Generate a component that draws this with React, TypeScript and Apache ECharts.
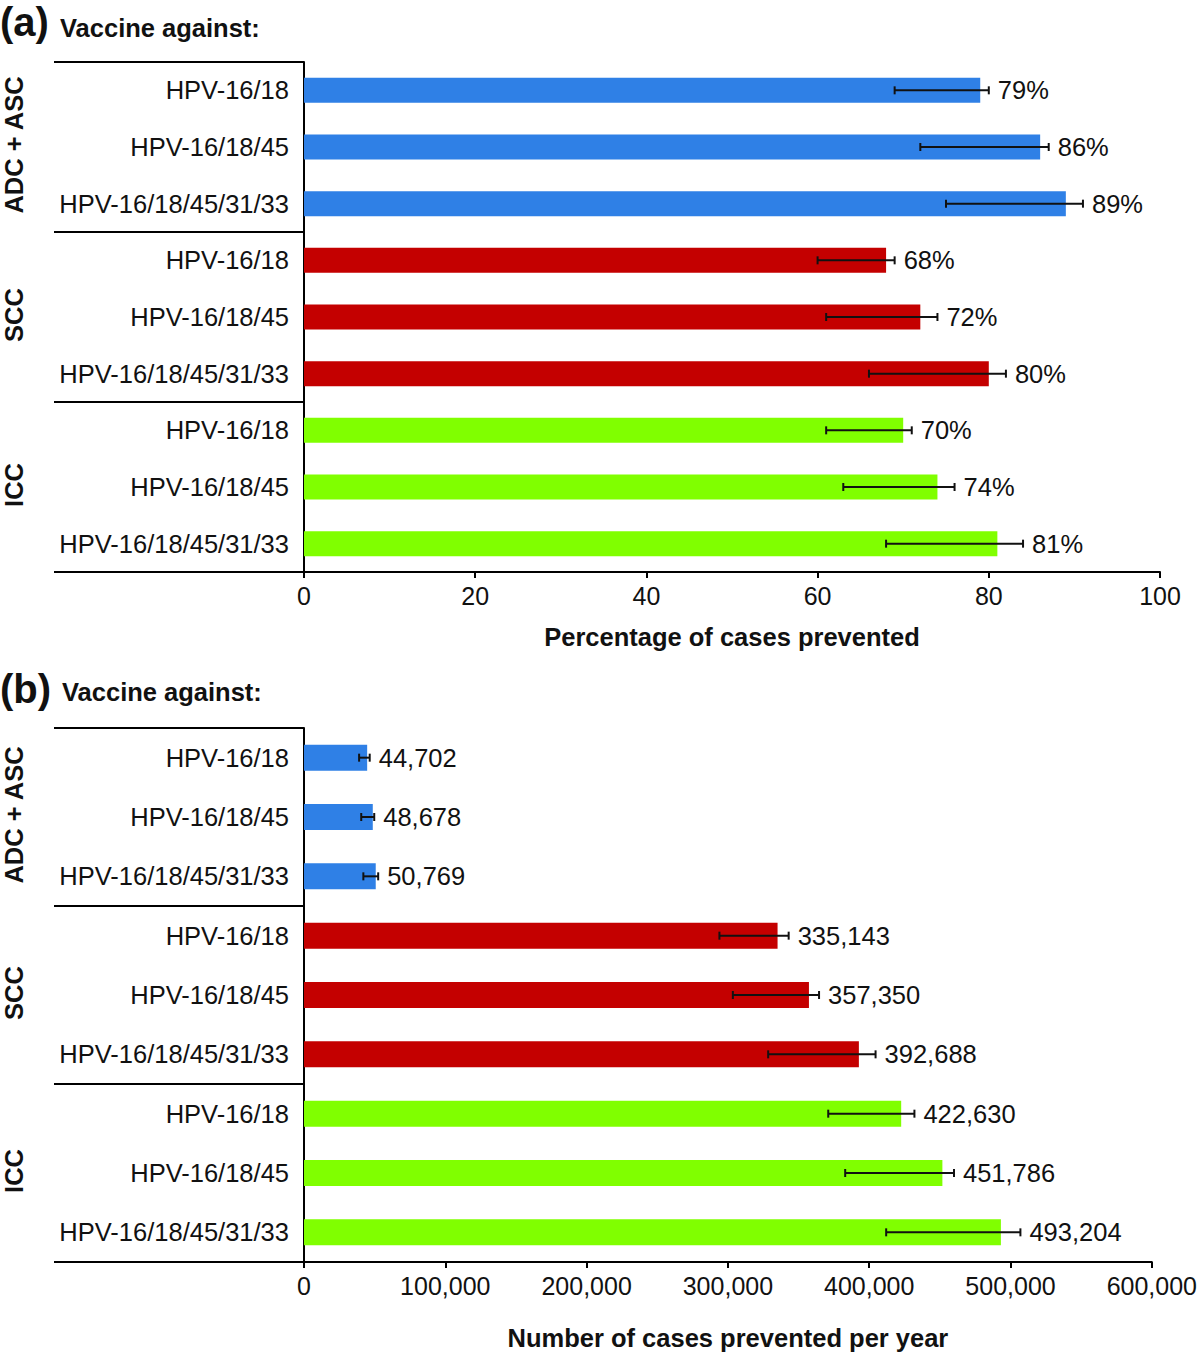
import React, { useEffect, useRef } from "react";
import * as echarts from "echarts";

const vaccineLabels = [
  "HPV-16/18", "HPV-16/18/45", "HPV-16/18/45/31/33",
  "HPV-16/18", "HPV-16/18/45", "HPV-16/18/45/31/33",
  "HPV-16/18", "HPV-16/18/45", "HPV-16/18/45/31/33",
];
const groupNames = ["ADC + ASC", "SCC", "ICC"];
const groupColors = ["#2f80e6", "#c40000", "#80ff00"];

const pctValues = [79, 86, 89, 68, 72, 80, 70, 74, 81];
const pctLow = [69, 72, 75, 60, 61, 66, 61, 63, 68];
const pctHigh = [80, 87, 91, 69, 74, 82, 71, 76, 84];

const caseValues = [44702, 48678, 50769, 335143, 357350, 392688, 422630, 451786, 493204];
const caseLow = [39000, 40500, 42000, 294000, 303500, 328500, 371000, 383000, 412000];
const caseHigh = [46500, 49700, 52500, 343000, 364500, 404500, 432000, 460000, 507000];

const pctTicks = { min: 0, max: 100, interval: 20 };
const caseTicks = { min: 0, max: 600000, interval: 100000 };

const FONT = "'Liberation Sans', Arial, Helvetica, sans-serif";
const FS = 25.5;

export default function App() {
  const ref = useRef<HTMLDivElement>(null);
  useEffect(() => {
    document.body.style.margin = "0";
    const chart = echarts.init(ref.current!, null, { renderer: "svg" });
    const idx = vaccineLabels.map((_, i) => String(i));

    const gridA = { left: 304, top: 62, width: 856, height: 510 };
    const gridB = { left: 304, top: 728, width: 849, height: 534 };

    const yAxisBase = (gi: number) => ({
      type: "category",
      gridIndex: gi,
      data: idx,
      inverse: true,
      axisLine: { show: true, lineStyle: { color: "#000", width: 2 } },
      axisTick: { show: false },
      axisLabel: {
        formatter: (_v: string, i: number) => vaccineLabels[i],
        fontFamily: FONT,
        fontSize: FS,
        color: "#111",
        margin: 15,
      },
      splitLine: { show: false },
    });

    const xAxisBase = (gi: number, ticks: any, name: string, fmt: (v: number) => string, gap: number) => ({
      type: "value",
      gridIndex: gi,
      ...ticks,
      name,
      nameLocation: "middle",
      nameGap: gap,
      nameTextStyle: { fontFamily: FONT, fontSize: FS, fontWeight: "bold", color: "#111" },
      axisLine: { show: true, lineStyle: { color: "#000", width: 2 } },
      axisTick: { show: true, length: 6, lineStyle: { color: "#000", width: 2 } },
      axisLabel: { formatter: fmt, fontFamily: FONT, fontSize: 25, color: "#111", margin: 11 },
      splitLine: { show: false },
    });

    const barSeries = (gi: number, values: number[], width: number) => ({
      type: "bar",
      xAxisIndex: gi,
      yAxisIndex: gi,
      barWidth: width,
      z: 2,
      data: values.map((v, i) => ({ value: v, itemStyle: { color: groupColors[Math.floor(i / 3)] } })),
    });

    const errSeries = (gi: number, lows: number[], highs: number[], labels: string[]) => ({
      type: "custom",
      xAxisIndex: gi,
      yAxisIndex: gi,
      z: 10,
      encode: { x: [1, 2], y: 0 },
      data: lows.map((l, i) => [i, l, highs[i], labels[i]]),
      renderItem: (params: any, api: any) => {
        const i = api.value(0);
        const lo = api.coord([api.value(1), i]);
        const hi = api.coord([api.value(2), i]);
        const y = lo[1];
        const cap = 4;
        const st = { stroke: "#111", lineWidth: 2 };
        return {
          type: "group",
          children: [
            { type: "line", shape: { x1: lo[0], y1: y, x2: hi[0], y2: y }, style: st },
            { type: "line", shape: { x1: lo[0], y1: y - cap, x2: lo[0], y2: y + cap }, style: st },
            { type: "line", shape: { x1: hi[0], y1: y - cap, x2: hi[0], y2: y + cap }, style: st },
            {
              type: "text",
              x: hi[0] + 9,
              y: y,
              style: {
                text: labels[params.dataIndex],
                fontFamily: FONT,
                fontSize: FS,
                fill: "#111",
                verticalAlign: "middle",
                align: "left",
              },
            },
          ],
        };
      },
    });

    const fmtNum = (v: number) => v.toLocaleString("en-US");

    const lineEl = (x1: number, y1: number, x2: number, y2: number) => ({
      type: "line",
      shape: { x1, y1, x2, y2 },
      style: { stroke: "#000", lineWidth: 2 },
      silent: true,
    });
    const groupText = (text: string, x: number, y: number) => ({
      type: "text",
      x,
      y,
      rotation: Math.PI / 2,
      style: {
        text,
        fontFamily: FONT,
        fontSize: FS,
        fontWeight: "bold",
        fill: "#111",
        align: "center",
        verticalAlign: "middle",
      },
    });

    const bandA = gridA.height / 9;
    const bandB = gridB.height / 9;
    const graphics: any[] = [];
    [gridA, gridB].forEach((g, gi) => {
      const band = gi === 0 ? bandA : bandB;
      graphics.push(lineEl(54, g.top, g.left, g.top));
      graphics.push(lineEl(54, g.top + band * 3, g.left, g.top + band * 3));
      graphics.push(lineEl(54, g.top + band * 6, g.left, g.top + band * 6));
      graphics.push(lineEl(54, g.top + g.height, g.left, g.top + g.height));
      groupNames.forEach((n, k) => {
        graphics.push(groupText(n, 14, g.top + band * (3 * k + 1.5) - 2));
      });
    });
    graphics.push({
      type: "text", x: 0, y: 22,
      style: { text: "(a)", fontFamily: FONT, fontSize: 40, fontWeight: "bold", fill: "#111", verticalAlign: "middle" },
    });
    graphics.push({
      type: "text", x: 60, y: 28,
      style: { text: "Vaccine against:", fontFamily: FONT, fontSize: FS, fontWeight: "bold", fill: "#111", verticalAlign: "middle" },
    });
    graphics.push({
      type: "text", x: 0, y: 689,
      style: { text: "(b)", fontFamily: FONT, fontSize: 40, fontWeight: "bold", fill: "#111", verticalAlign: "middle" },
    });
    graphics.push({
      type: "text", x: 62, y: 692,
      style: { text: "Vaccine against:", fontFamily: FONT, fontSize: FS, fontWeight: "bold", fill: "#111", verticalAlign: "middle" },
    });

    chart.setOption({
      animation: false,
      backgroundColor: "#fff",
      grid: [gridA, gridB],
      xAxis: [
        xAxisBase(0, pctTicks, "Percentage of cases prevented", (v: number) => String(v), 52),
        xAxisBase(1, caseTicks, "Number of cases prevented per year", fmtNum, 63),
      ],
      yAxis: [yAxisBase(0), yAxisBase(1)],
      series: [
        barSeries(0, pctValues, 25),
        errSeries(0, pctLow, pctHigh, pctValues.map((v) => v + "%")),
        barSeries(1, caseValues, 26),
        errSeries(1, caseLow, caseHigh, caseValues.map(fmtNum)),
      ],
      graphic: { elements: graphics },
    });
    return () => chart.dispose();
  }, []);
  return <div ref={ref} style={{ width: 1200, height: 1353 }} />;
}
